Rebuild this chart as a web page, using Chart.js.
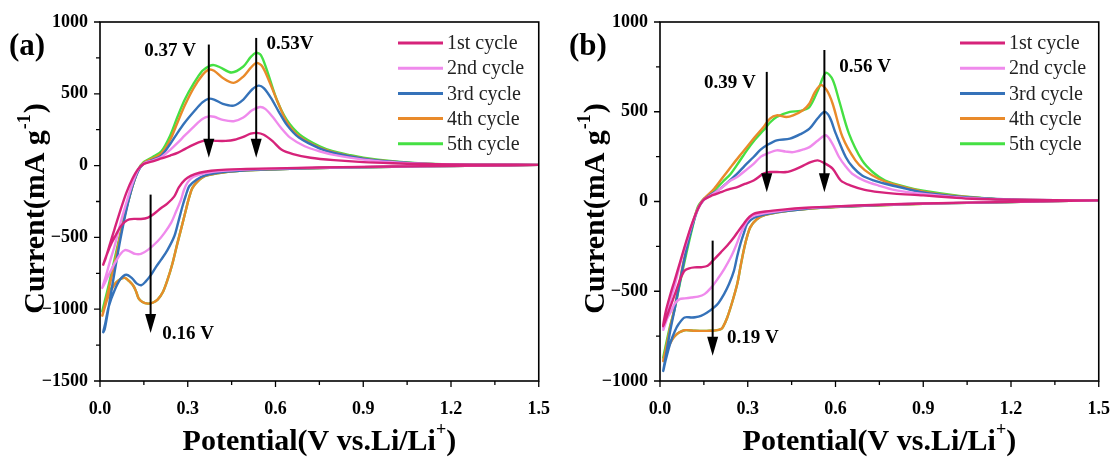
<!DOCTYPE html>
<html>
<head>
<meta charset="utf-8">
<script src="https://cdn.jsdelivr.net/npm/chart.js@4"></script>
<style>
  body { margin: 0; background: #fff; }
  .wrap { display: flex; width: 1120px; height: 460px; }
  .panel { width: 560px; height: 460px; }
</style>
</head>
<body>
<div class="wrap">
  <div class="panel"><canvas id="chartA" width="560" height="460"></canvas></div>
  <div class="panel"><canvas id="chartB" width="560" height="460"></canvas></div>
</div>
<script>
// Legend labels and colours
const cycleLabels = ['1st cycle', '2nd cycle', '3rd cycle', '4th cycle', '5th cycle'];
const cycleColors = ['#d6237a', '#ef8aec', '#3572b9', '#e98a2a', '#45e043'];

// Panel (a): each loop = cathodic sweep 1.5 -> 0.01 V, then anodic sweep back to 1.5 V
const a1V = [1.5,1.3,1.1,0.9,0.75,0.6,0.5,0.43,0.38,0.34,0.31,0.29,0.27,0.254,0.23,0.209,0.185,0.164,0.14,0.12,0.1,0.085,0.07,0.055,0.04,0.025,0.011,
  0.02,0.035,0.05,0.07,0.09,0.11,0.13,0.15,0.18,0.21,0.24,0.265,0.29,0.32,0.35,0.37,0.40,0.43,0.46,0.49,0.515,0.536,0.56,0.59,0.62,0.66,0.72,0.8,0.9,1.0,1.1,1.2,1.35,1.5];
const a1I = [5,0,-4,-9,-13,-19,-24,-28,-36,-50,-72,-100,-150,-214,-265,-295,-335,-362,-372,-371,-374,-392,-425,-480,-538,-610,-690,
  -640,-540,-440,-310,-190,-95,-25,12,30,50,70,88,115,146,170,176,172,172,180,200,222,228,215,170,112,80,55,38,24,16,11,8,6,5];

const a2V = [1.5,1.3,1.1,0.9,0.75,0.6,0.5,0.42,0.36,0.32,0.3,0.287,0.277,0.26,0.243,0.22,0.197,0.165,0.14,0.12,0.1,0.085,0.07,0.051,0.03,0.008,
  0.02,0.035,0.05,0.07,0.09,0.11,0.13,0.15,0.18,0.21,0.24,0.265,0.29,0.322,0.35,0.372,0.39,0.42,0.457,0.49,0.52,0.547,0.565,0.59,0.62,0.65,0.7,0.75,0.8,0.9,1.0,1.1,1.2,1.35,1.5];
const a2I = [5,0,-5,-10,-15,-21,-27,-36,-52,-78,-115,-170,-237,-320,-399,-470,-527,-585,-615,-615,-595,-588,-615,-678,-760,-852,
  -770,-660,-560,-400,-260,-130,-30,15,35,60,110,158,210,274,325,343,340,318,309,335,385,408,395,340,260,195,135,100,75,42,24,13,8,6,5];

const a3V = [1.5,1.3,1.1,0.9,0.75,0.6,0.5,0.42,0.36,0.33,0.305,0.293,0.282,0.268,0.254,0.23,0.209,0.19,0.175,0.155,0.141,0.125,0.11,0.09,0.07,0.051,0.03,0.018,0.011,
  0.016,0.025,0.035,0.05,0.07,0.09,0.11,0.13,0.15,0.18,0.21,0.24,0.265,0.29,0.322,0.35,0.372,0.39,0.42,0.457,0.49,0.52,0.542,0.56,0.585,0.61,0.64,0.68,0.75,0.8,0.9,1.0,1.1,1.2,1.35,1.5];
const a3I = [5,0,-5,-11,-17,-25,-32,-45,-68,-98,-144,-210,-283,-390,-492,-590,-655,-710,-759,-810,-833,-820,-785,-760,-790,-863,-980,-1100,-1160,
  -1140,-1040,-920,-740,-510,-310,-150,-40,15,40,70,150,228,300,378,440,466,460,430,418,460,530,557,540,470,380,280,195,120,88,48,27,14,8,6,5];

const a4V = [1.5,1.3,1.1,0.9,0.75,0.6,0.5,0.42,0.36,0.335,0.316,0.305,0.294,0.28,0.265,0.248,0.231,0.215,0.197,0.18,0.164,0.145,0.132,0.124,0.115,0.1,0.085,0.07,0.055,0.04,0.025,0.008,
  0.018,0.03,0.05,0.07,0.09,0.11,0.13,0.15,0.18,0.21,0.24,0.265,0.29,0.32,0.35,0.372,0.39,0.42,0.457,0.49,0.515,0.535,0.555,0.58,0.61,0.64,0.68,0.75,0.8,0.9,1.0,1.1,1.2,1.35,1.5];
const a4I = [5,0,-5,-11,-17,-26,-33,-48,-72,-108,-155,-220,-306,-420,-538,-680,-794,-880,-933,-955,-961,-950,-925,-880,-840,-805,-782,-790,-815,-860,-930,-1045,
  -960,-860,-680,-480,-300,-150,-35,20,50,85,180,300,420,540,630,668,660,610,576,620,680,715,690,580,430,300,205,125,92,50,28,14,8,6,5];

const a5V = [1.5,1.3,1.1,0.9,0.75,0.6,0.5,0.42,0.36,0.335,0.316,0.305,0.294,0.28,0.265,0.248,0.231,0.215,0.197,0.18,0.164,0.145,0.132,0.124,0.115,0.1,0.085,0.07,0.055,0.04,0.025,0.008,
  0.018,0.03,0.05,0.07,0.09,0.11,0.13,0.15,0.18,0.21,0.24,0.265,0.29,0.32,0.35,0.375,0.39,0.41,0.45,0.49,0.515,0.533,0.55,0.57,0.604,0.638,0.683,0.751,0.796,0.85,0.9,1.0,1.1,1.2,1.35,1.5];
const a5I = [5,0,-5,-11,-17,-26,-33,-48,-72,-108,-155,-220,-306,-420,-538,-680,-794,-880,-933,-955,-961,-950,-925,-880,-840,-805,-782,-790,-815,-850,-910,-1015,
  -930,-830,-650,-470,-300,-150,-30,25,60,100,210,340,460,570,660,695,700,685,648,690,755,785,770,668,460,320,216,134,100,75,55,30,15,9,6,5];

// Panel (b)
const b1V = [1.5,1.3,1.1,0.9,0.75,0.6,0.5,0.42,0.36,0.32,0.3,0.286,0.27,0.253,0.23,0.208,0.185,0.163,0.14,0.118,0.1,0.084,0.07,0.051,0.03,0.011,
  0.02,0.035,0.05,0.07,0.09,0.11,0.13,0.15,0.18,0.208,0.24,0.264,0.29,0.32,0.354,0.376,0.40,0.432,0.46,0.49,0.515,0.539,0.56,0.59,0.618,0.65,0.7,0.75,0.8,0.9,1.0,1.067,1.2,1.35,1.5];
const b1I = [6,1,-5,-11,-18,-27,-35,-45,-56,-69,-95,-125,-160,-199,-245,-283,-322,-358,-366,-367,-372,-385,-430,-516,-610,-695,
  -610,-520,-440,-330,-220,-120,-40,10,35,52,70,80,98,117,155,164,164,164,178,200,220,229,215,183,117,90,65,52,44,34,22,15,10,7,6];

const b2V = [1.5,1.3,1.1,0.9,0.75,0.6,0.5,0.42,0.36,0.32,0.303,0.29,0.275,0.26,0.242,0.22,0.197,0.175,0.152,0.13,0.107,0.085,0.067,0.05,0.039,0.025,0.011,
  0.02,0.035,0.05,0.07,0.09,0.11,0.13,0.15,0.18,0.21,0.24,0.264,0.29,0.32,0.345,0.365,0.399,0.43,0.455,0.49,0.511,0.54,0.567,0.59,0.612,0.635,0.657,0.7,0.747,0.8,0.9,1.0,1.1,1.2,1.35,1.5];
const b2I = [6,1,-5,-12,-19,-28,-37,-50,-65,-80,-97,-130,-181,-245,-311,-375,-432,-480,-516,-530,-535,-540,-544,-570,-609,-650,-715,
  -640,-550,-470,-340,-230,-125,-40,10,40,75,115,136,170,210,250,266,285,278,275,290,303,340,369,320,248,195,155,115,89,65,42,26,16,10,7,6];

const b3V = [1.5,1.3,1.1,0.9,0.75,0.6,0.5,0.42,0.36,0.32,0.298,0.287,0.275,0.264,0.253,0.236,0.219,0.2,0.185,0.16,0.14,0.12,0.107,0.084,0.065,0.051,0.035,0.02,0.011,
  0.02,0.035,0.05,0.07,0.09,0.11,0.13,0.15,0.17,0.197,0.23,0.264,0.29,0.32,0.345,0.365,0.399,0.444,0.48,0.511,0.54,0.562,0.58,0.601,0.635,0.66,0.691,0.73,0.77,0.84,0.9,1.0,1.1,1.2,1.35,1.5];
const b3I = [6,1,-6,-12,-20,-30,-40,-55,-72,-92,-125,-175,-236,-305,-385,-460,-516,-565,-590,-620,-637,-645,-646,-646,-680,-721,-790,-880,-944,
  -860,-720,-600,-430,-270,-140,-40,10,35,61,105,155,200,248,290,313,341,350,375,406,465,499,470,378,248,190,145,118,99,72,50,30,18,11,7,6];

const b4V = [1.5,1.3,1.1,0.9,0.75,0.6,0.506,0.42,0.36,0.33,0.309,0.297,0.286,0.275,0.264,0.247,0.23,0.215,0.208,0.19,0.17,0.152,0.12,0.084,0.065,0.051,0.04,0.028,0.018,0.011,
  0.02,0.035,0.05,0.07,0.09,0.11,0.13,0.15,0.185,0.215,0.242,0.27,0.297,0.325,0.354,0.376,0.399,0.432,0.455,0.49,0.511,0.53,0.55,0.57,0.59,0.624,0.668,0.7,0.747,0.8,0.9,1.0,1.1,1.2,1.35,1.5];
const b4I = [6,1,-6,-13,-21,-31,-41,-56,-75,-100,-143,-200,-274,-365,-460,-560,-646,-700,-711,-718,-720,-721,-720,-717,-730,-749,-775,-814,-855,-888,
  -820,-700,-590,-420,-260,-130,-35,15,71,135,192,250,303,360,415,462,480,471,480,510,546,610,648,620,546,359,229,175,127,95,55,32,19,11,7,6];

const b5V = [1.5,1.3,1.1,0.9,0.75,0.6,0.506,0.42,0.36,0.33,0.309,0.297,0.286,0.275,0.264,0.247,0.23,0.215,0.208,0.19,0.17,0.152,0.12,0.084,0.065,0.051,0.04,0.028,0.018,0.011,
  0.02,0.035,0.05,0.07,0.09,0.11,0.129,0.15,0.163,0.185,0.215,0.242,0.27,0.297,0.325,0.354,0.376,0.399,0.444,0.48,0.511,0.54,0.567,0.59,0.612,0.646,0.691,0.73,0.77,0.843,0.9,1.011,1.1,1.18,1.35,1.5];
const b5I = [6,1,-6,-13,-21,-31,-41,-56,-75,-100,-143,-200,-274,-365,-460,-560,-646,-700,-711,-718,-720,-721,-720,-717,-730,-749,-770,-800,-835,-870,
  -800,-690,-600,-440,-290,-150,-32,15,24,61,110,155,220,285,345,397,440,471,499,505,527,620,717,680,564,378,229,160,117,80,60,34,20,9,7,6];

// Axis ticks
const xTicks = [0, 0.3, 0.6, 0.9, 1.2, 1.5];
const yTicksA = [-1500, -1000, -500, 0, 500, 1000];
const yTicksB = [-1000, -500, 0, 500, 1000];

// Peak annotations: potential, arrow start/end current, label
const arrowsA = [
  { v: 0.372, from: 843, to: 54 },
  { v: 0.534, from: 889, to: 54 },
  { v: 0.173, from: -202, to: -1165 }
];
const notesA = [
  { text: '0.37 V', v: 0.328, i: 794, align: 'right' },
  { text: '0.53V', v: 0.569, i: 843, align: 'left' },
  { text: '0.16 V', v: 0.213, i: -1170, align: 'left' }
];
const arrowsB = [
  { v: 0.365, from: 722, to: 52 },
  { v: 0.562, from: 844, to: 52 },
  { v: 0.18, from: -218, to: -860 }
];
const notesB = [
  { text: '0.39 V', v: 0.327, i: 659, align: 'right' },
  { text: '0.56 V', v: 0.613, i: 749, align: 'left' },
  { text: '0.19 V', v: 0.229, i: -760, align: 'left' }
];

const SERIF = '"Liberation Serif", "Times New Roman", serif';

const toPoints = (vs, is) => vs.map((v, k) => ({ x: v, y: is[k] }));

const makeDatasets = (loops) => loops.map((loop, k) => ({
  label: cycleLabels[k],
  data: toPoints(loop[0], loop[1]),
  borderColor: cycleColors[k],
  backgroundColor: cycleColors[k],
  borderWidth: 2.4,
  showLine: true,
  pointRadius: 0,
  tension: 0.3
}));

// Frame, ticks, titles, legend and arrows
const decorPlugin = {
  id: 'decor',
  afterDatasetsDraw(chart, args, opts) {
    const { ctx, chartArea: area, scales: { x, y } } = chart;
    ctx.save();
    ctx.strokeStyle = '#000';
    ctx.fillStyle = '#000';

    // box
    ctx.lineWidth = 1.6;
    ctx.strokeRect(area.left, area.top, area.right - area.left, area.bottom - area.top);

    // ticks (major + minor, outward)
    ctx.lineWidth = 1.3;
    ctx.beginPath();
    for (let k = 0; k <= 10; k++) {
      const px = x.getPixelForValue(k * 0.15);
      const len = k % 2 === 0 ? 6 : 4;
      ctx.moveTo(px, area.bottom);
      ctx.lineTo(px, area.bottom + len);
    }
    for (let v = y.min, k = 0; v <= y.max + 1; v += 250, k++) {
      const py = y.getPixelForValue(v);
      const len = k % 2 === 0 ? 6 : 4;
      ctx.moveTo(area.left, py);
      ctx.lineTo(area.left - len, py);
    }
    ctx.stroke();

    // panel letter
    ctx.font = 'bold 31px ' + SERIF;
    ctx.textAlign = 'left';
    ctx.textBaseline = 'middle';
    ctx.fillText(opts.letter, 9, 47);

    // x title with superscript
    const xMain = 'Potential(V vs.Li/Li';
    ctx.font = 'bold 30px ' + SERIF;
    const w1 = ctx.measureText(xMain).width;
    ctx.font = 'bold 18px ' + SERIF;
    const w2 = ctx.measureText('+').width;
    ctx.font = 'bold 30px ' + SERIF;
    const w3 = ctx.measureText(')').width;
    const sx = (area.left + area.right) / 2 - (w1 + w2 + w3) / 2;
    ctx.textBaseline = 'alphabetic';
    ctx.fillText(xMain, sx, 450);
    ctx.font = 'bold 18px ' + SERIF;
    ctx.fillText('+', sx + w1, 435);
    ctx.font = 'bold 30px ' + SERIF;
    ctx.fillText(')', sx + w1 + w2, 450);

    // y title with superscript, rotated
    ctx.save();
    ctx.translate(44, (area.top + area.bottom) / 2 + 8);
    ctx.rotate(-Math.PI / 2);
    const yMain = 'Current(mA g';
    ctx.font = 'bold 30px ' + SERIF;
    const u1 = ctx.measureText(yMain).width;
    ctx.font = 'bold 18px ' + SERIF;
    const u2 = ctx.measureText('-1').width;
    ctx.font = 'bold 30px ' + SERIF;
    const sy = -(u1 + u2 + ctx.measureText(')').width) / 2;
    ctx.fillText(yMain, sy, 0);
    ctx.font = 'bold 18px ' + SERIF;
    ctx.fillText('-1', sy + u1 + 1, -14);
    ctx.font = 'bold 30px ' + SERIF;
    ctx.fillText(')', sy + u1 + u2 + 2, 0);
    ctx.restore();

    // legend
    ctx.font = '20px ' + SERIF;
    ctx.textAlign = 'left';
    ctx.textBaseline = 'middle';
    chart.data.datasets.forEach((ds, k) => {
      const ly = 43 + k * 25.2;
      ctx.strokeStyle = ds.borderColor;
      ctx.lineWidth = 3;
      ctx.beginPath();
      ctx.moveTo(opts.legendX, ly);
      ctx.lineTo(opts.legendX + 45, ly);
      ctx.stroke();
      ctx.fillStyle = '#222';
      ctx.fillText(ds.label, opts.legendX + 49, ly + 1);
    });

    // arrows
    ctx.strokeStyle = '#000';
    ctx.fillStyle = '#000';
    opts.arrows.forEach(a => {
      const px = x.getPixelForValue(a.v);
      const p0 = y.getPixelForValue(a.from);
      const p1 = y.getPixelForValue(a.to);
      ctx.lineWidth = 2;
      ctx.beginPath();
      ctx.moveTo(px, p0);
      ctx.lineTo(px, p1 - 16);
      ctx.stroke();
      ctx.beginPath();
      ctx.moveTo(px - 5.5, p1 - 19);
      ctx.lineTo(px + 5.5, p1 - 19);
      ctx.lineTo(px, p1);
      ctx.closePath();
      ctx.fill();
    });

    // peak labels
    ctx.font = 'bold 19px ' + SERIF;
    ctx.textBaseline = 'middle';
    opts.notes.forEach(n => {
      ctx.textAlign = n.align;
      ctx.fillText(n.text, x.getPixelForValue(n.v), y.getPixelForValue(n.i));
    });

    ctx.restore();
  }
};

const makeChart = (id, loops, yTicks, rightPad, decor) => new Chart(document.getElementById(id), {
  type: 'scatter',
  data: { datasets: makeDatasets(loops) },
  options: {
    responsive: false,
    animation: false,
    layout: { padding: { top: 22, right: rightPad, left: 0, bottom: 0 } },
    plugins: {
      legend: { display: false },
      tooltip: { enabled: false },
      decor: decor
    },
    scales: {
      x: {
        type: 'linear',
        min: 0,
        max: 1.5,
        afterBuildTicks: (s) => { s.ticks = xTicks.map(v => ({ value: v })); },
        afterFit: (s) => { s.height = 79; },
        grid: { display: false },
        border: { display: false },
        ticks: {
          color: '#000',
          padding: 10,
          maxRotation: 0,
          font: { family: SERIF, size: 18, weight: 'bold' },
          callback: (v) => Number(v).toFixed(1)
        }
      },
      y: {
        min: yTicks[0],
        max: yTicks[yTicks.length - 1],
        afterBuildTicks: (s) => { s.ticks = yTicks.map(v => ({ value: v })); },
        afterFit: (s) => { s.width = 100; },
        grid: { display: false },
        border: { display: false },
        ticks: {
          color: '#000',
          padding: 4,
          font: { family: SERIF, size: 18, weight: 'bold' },
          callback: (v) => String(v).replace('-', '\u2212')
        }
      }
    }
  },
  plugins: [decorPlugin]
});

makeChart('chartA',
  [[a1V, a1I], [a2V, a2I], [a3V, a3I], [a4V, a4I], [a5V, a5I]],
  yTicksA, 17,
  { letter: '(a)', legendX: 398, arrows: arrowsA, notes: notesA });

makeChart('chartB',
  [[b1V, b1I], [b2V, b2I], [b3V, b3I], [b4V, b4I], [b5V, b5I]],
  yTicksB, 15,
  { letter: '(b)', legendX: 400, arrows: arrowsB, notes: notesB });
</script>
</body>
</html>
